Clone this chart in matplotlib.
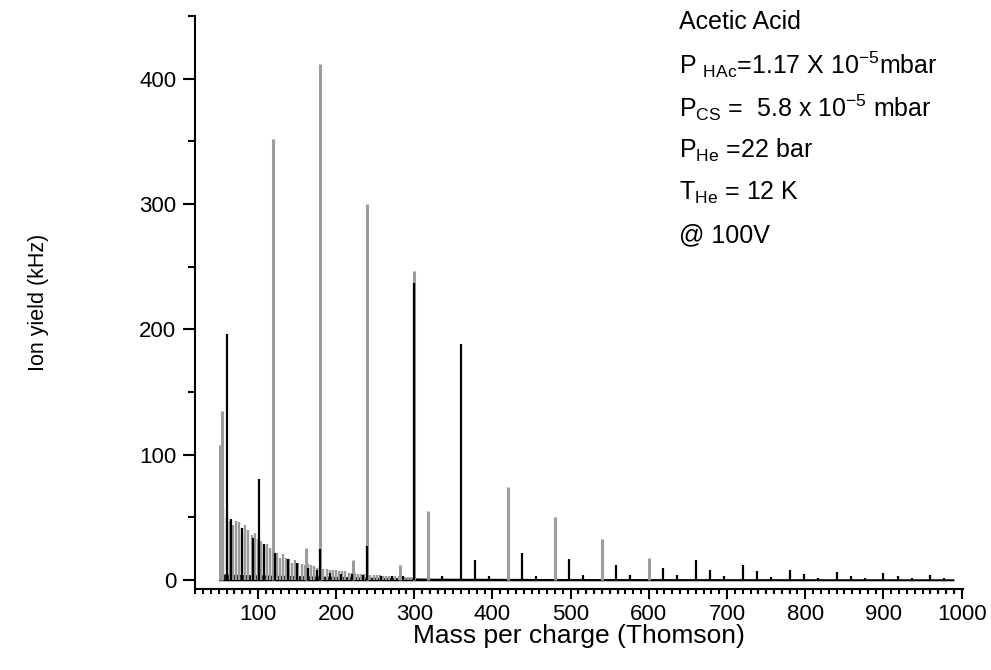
import matplotlib
matplotlib.use("Agg")
import matplotlib.pyplot as plt
from matplotlib.ticker import MultipleLocator

plt.rcParams['font.family'] = ['Liberation Sans', 'DejaVu Sans']
plt.rcParams['mathtext.fontset'] = 'custom'
plt.rcParams['mathtext.rm'] = 'Liberation Sans'
plt.rcParams['mathtext.it'] = 'Liberation Sans'

# grey trace: helium cluster comb (every 4 Th) plus acetic acid cluster peaks
grey_comb_mz = [56, 60, 64, 68, 72, 76, 80, 84, 88, 92, 96, 100, 104, 108, 112,
                116, 120, 124, 128, 132, 136, 140, 144, 148, 152, 156, 160, 164,
                168, 172, 176, 180, 184, 188, 192, 196, 200, 204, 208, 212, 216,
                220, 224, 228, 232, 236, 240, 244, 248, 252, 256, 260, 264, 268,
                272, 276, 280, 284, 288, 292, 296, 300]
grey_comb_int = [57, 50, 47, 44, 47, 46, 38, 44, 40, 36, 38, 33, 31, 27, 29,
                 26, 24, 22, 18, 21, 18, 17, 14, 16, 14, 13, 12, 13,
                 12, 11, 10, 10, 9, 9, 8, 8, 8, 7, 7, 7, 6,
                 6, 6, 5, 5, 5, 4.5, 4.5, 4, 4, 4, 3.5, 3.5, 3,
                 3, 3, 3, 2.5, 2.5, 2.5, 2.5, 2]

grey_mz = [52, 54, 120, 162, 180, 222, 240, 282, 300, 318, 420, 480, 540, 600]
grey_int = [108, 135, 352, 26, 412, 16, 300, 12, 247, 55, 74, 50, 33, 18]

# black trace
black_mz = [60, 66, 80, 94, 102, 108, 122, 138, 150, 164, 176, 180, 192, 206,
            220, 234, 240, 258, 272, 286, 300, 336, 360, 378, 396, 438, 456,
            498, 516, 558, 576, 618, 636, 660, 678, 696, 720, 738, 756, 780,
            798, 816, 840, 858, 876, 900, 918, 936, 960, 978]
black_int = [196, 49, 42, 34, 81, 29, 22, 17, 14, 10, 8, 25, 6, 5,
             5, 4, 27, 3, 3, 3, 237, 3, 188, 16, 3, 21.5, 3,
             17, 4, 12, 4, 10, 4, 16, 8, 3.5, 12, 7, 2.5, 8,
             5, 2, 6.5, 3, 1.5, 5.5, 3, 1.5, 4, 2]

# baseline of the black trace
base_mz = [50, 80, 120, 160, 200, 260, 320, 500, 990]
base_int = [5, 4.5, 4, 3.5, 3, 2.2, 1.6, 1.3, 1.1]

labels = ["Acetic Acid",
          r"P $_{\mathrm{HAc}}$=1.17 X 10$^{\mathrm{-5}}$mbar",
          r"P$_{\mathrm{CS}}$ =  5.8 x 10$^{\mathrm{-5}}$ mbar",
          r"P$_{\mathrm{He}}$ =22 bar",
          r"T$_{\mathrm{He}}$ = 12 K",
          "@ 100V"]

fig = plt.figure(figsize=(9.91, 6.70), dpi=100)
ax = fig.add_axes([0.197, 0.121, 0.775, 0.855])

grey = '#9c9c9c'
ax.vlines(grey_comb_mz, 0, grey_comb_int, color=grey, lw=1.7)
ax.vlines(grey_mz, 0, grey_int, color=grey, lw=2.2)
ax.fill_between(base_mz, -0.5, base_int, color='black', lw=0)
ax.vlines(black_mz, 0, black_int, color='black', lw=1.6)

ax.set_xlim(20, 1002)
ax.set_ylim(-7, 450)
ax.xaxis.set_minor_locator(MultipleLocator(10))
ax.yaxis.set_minor_locator(MultipleLocator(50))
ax.set_xticks(range(100, 1001, 100))
ax.set_yticks(range(0, 401, 100))

for side in ['top', 'right']:
    ax.spines[side].set_visible(False)
for side in ['left', 'bottom']:
    ax.spines[side].set_linewidth(1.5)

ax.tick_params(axis='both', which='both', direction='out', width=1.5, labelsize=16)
ax.tick_params(axis='y', which='major', length=8.5, pad=5)
ax.tick_params(axis='y', which='minor', length=5)
ax.tick_params(axis='x', which='major', length=7, pad=4)
ax.tick_params(axis='x', which='minor', length=3.5)

ax.set_xlabel("Mass per charge (Thomson)", fontsize=19)
ax.set_ylabel("Ion yield (kHz)", fontsize=15.5)
ax.xaxis.set_label_coords(0.5, -0.062)
ax.yaxis.set_label_coords(-0.19, 0.5)

for i, txt in enumerate(labels):
    ax.text(638, 445 - 34 * i, txt, fontsize=18, va='center', ha='left')

fig.savefig("out.png", dpi=100)
